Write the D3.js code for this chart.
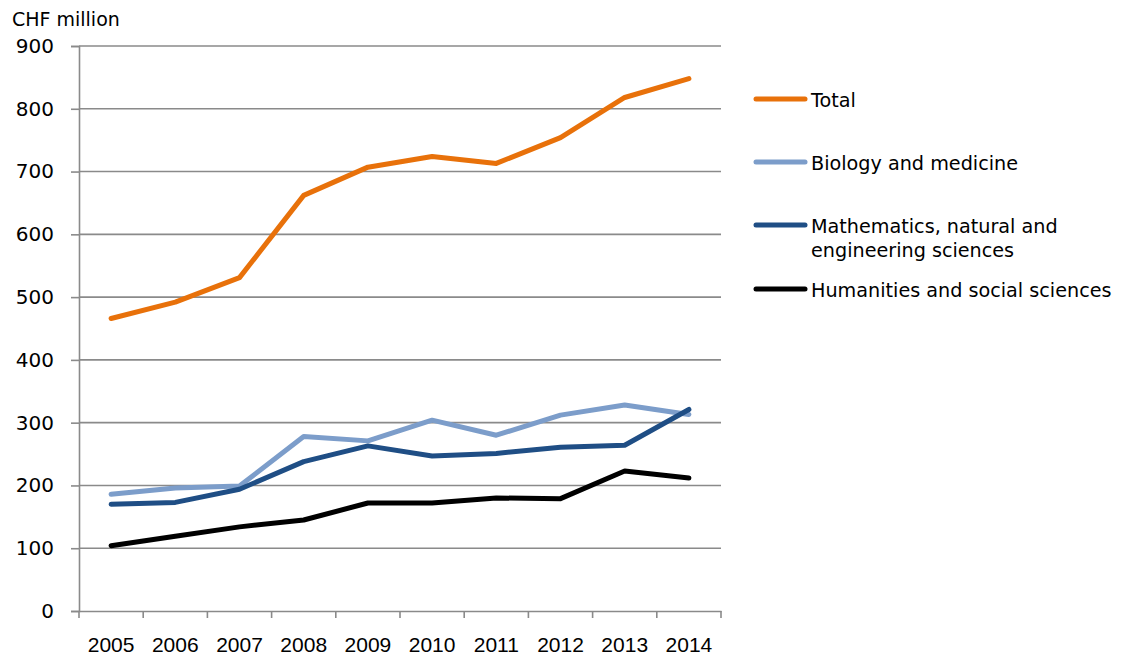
<!DOCTYPE html>
<html><head><meta charset="utf-8">
<script src="https://cdn.jsdelivr.net/npm/d3@7"></script>
<style>body{margin:0;background:#fff}svg{display:block}</style>
</head><body><svg id="c" width="1127" height="659"></svg>
<script>
const years = ["2005","2006","2007","2008","2009","2010","2011","2012","2013","2014"];
const total = [466, 492, 531, 662, 707, 724, 713, 754, 818, 848];
const biology = [186, 196, 199, 278, 271, 304, 280, 312, 328, 313];
const mathsci = [170, 173, 194, 238, 263, 247, 251, 261, 264, 321];
const humanities = [104, 119, 134, 145, 172, 172, 180, 179, 223, 212];
const yTicks = [0,100,200,300,400,500,600,700,800,900];
const seriesNames = ["Total","Biology and medicine","Mathematics, natural and|engineering sciences","Humanities and social sciences"];
const seriesColors = ["#E8710A","#7C9DCA","#1F4E85","#000000"];
const seriesData = [total, biology, mathsci, humanities];

const svg = d3.select("#c");
const L=79, R=721, T=46, B=611;
const x = d3.scaleBand().domain(years).range([L,R]);
const y = d3.scaleLinear().domain([0,900]).range([B,T]);
const grid="#8a8a8a";

// gridlines
svg.append("g").selectAll("line").data(yTicks.filter(d=>d>0)).join("line")
  .attr("x1",L).attr("x2",R).attr("y1",d=>y(d)).attr("y2",d=>y(d))
  .attr("stroke",grid).attr("stroke-width",1.6);

// y axis
const ya = svg.append("g").attr("transform",`translate(${L},0)`)
  .call(d3.axisLeft(y).tickValues(yTicks).tickSize(8).tickPadding(17).tickFormat(d3.format("d")));
ya.select(".domain").attr("stroke",grid).attr("stroke-width",1.6);
ya.selectAll(".tick line").attr("stroke",grid).attr("stroke-width",1.6);
ya.selectAll("text").attr("font-family","'DejaVu Sans',Verdana,sans-serif").attr("font-size",20).attr("fill","#000");

// x axis
const xa = svg.append("g").attr("transform",`translate(0,${B})`)
  .call(d3.axisBottom(x).tickSize(0).tickPadding(26));
xa.select(".domain").attr("stroke",grid).attr("stroke-width",1.6);
xa.selectAll("text").attr("font-family","'Liberation Sans',Arial,sans-serif").attr("font-size",21).attr("fill","#000");
const bounds = years.map(d=>x(d)).concat([R]);
svg.append("g").selectAll("line").data(bounds).join("line")
  .attr("x1",d=>d).attr("x2",d=>d).attr("y1",B).attr("y2",B+7)
  .attr("stroke",grid).attr("stroke-width",1.6);

// lines
const line = d3.line().x((d,i)=>x(years[i])+x.bandwidth()/2).y(d=>y(d));
[3,1,2,0].forEach(k=>{
  svg.append("path").datum(seriesData[k]).attr("d",line)
    .attr("fill","none").attr("stroke",seriesColors[k]).attr("stroke-width",5)
    .attr("stroke-linecap","round").attr("stroke-linejoin","round");
});

// title
svg.append("text").attr("x",12).attr("y",26).text("CHF million")
  .attr("font-family","'DejaVu Sans',Verdana,sans-serif").attr("font-size",19).attr("fill","#000");

// legend
const legY=[99,162,225,289];
const lg = svg.append("g");
seriesNames.forEach((n,i)=>{
  lg.append("line").attr("x1",756).attr("x2",805).attr("y1",legY[i]).attr("y2",legY[i])
    .attr("stroke",seriesColors[i]).attr("stroke-width",5).attr("stroke-linecap","round");
  const t = lg.append("text").attr("x",811).attr("y",legY[i]+7.5)
    .attr("font-family","'DejaVu Sans',Verdana,sans-serif").attr("font-size",19.2).attr("fill","#000");
  n.split("|").forEach((s,j)=>t.append("tspan").attr("x",811).attr("dy",j?24:0).text(s));
});
</script></body></html>
